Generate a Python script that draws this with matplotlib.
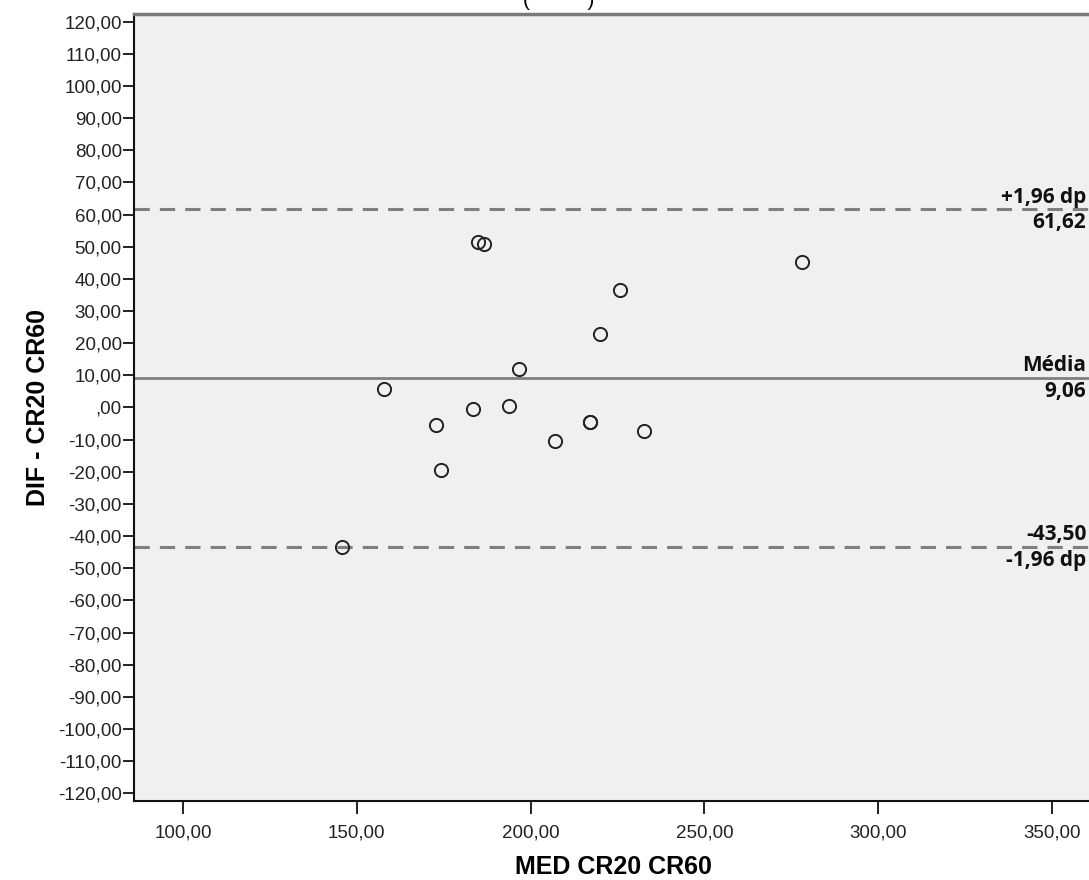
import matplotlib
matplotlib.use("Agg")
import matplotlib.pyplot as plt
from matplotlib.ticker import FuncFormatter

# Bland-Altman data
med = [145.7, 157.8, 172.8, 174.2, 183.4, 184.9, 186.6, 193.8,
       196.7, 207.0, 217.1, 217.1, 220.0, 225.7, 232.6, 278.1]
dif = [-43.5, 5.9, -5.3, -19.6, -0.6, 51.6, 51.0, 0.6,
       11.9, -10.3, -4.6, -4.6, 23.0, 36.4, -7.4, 45.4]

mean_diff = 9.06
upper_loa = 61.62
lower_loa = -43.50

y_ticks = list(range(-120, 121, 10))
x_ticks = [100, 150, 200, 250, 300, 350]


def comma_fmt(v, pos=None):
    s = "%.2f" % v
    s = s.replace(".", ",")
    if s.startswith("0,"):
        s = s[1:]
    if s.startswith("-0,"):
        s = s[2:]
    return s


fig = plt.figure(figsize=(10.89, 8.8), dpi=100)
fig.patch.set_facecolor("white")
ax = fig.add_axes([0.1233, 0.0898, 0.8800, 0.8943])
ax.set_facecolor("#f0f0f0")

ax.set_xlim(86, 360.6 + (0.0033 * 1089) / 3.476)
ax.set_ylim(-122.4, 122.4)

# reference lines
ax.axhline(mean_diff, color="#7f7f7f", lw=2.0, zorder=2)
ax.axhline(upper_loa, color="#7f7f7f", lw=2.2, ls=(0, (5, 3.3)), zorder=2)
ax.axhline(lower_loa, color="#7f7f7f", lw=2.2, ls=(0, (5, 3.3)), zorder=2)

ax.plot(med, dif, ls="none", marker="o", ms=9.5, mfc="none", mec="#222222",
        mew=1.4, zorder=3)

# labels on the reference lines
lab_font = dict(family=["Open Sans", "DejaVu Sans"], fontweight="bold",
                fontsize=15, color="#111111", ha="right")
xt = 0.9935
tr = ax.get_yaxis_transform()
ax.text(xt, upper_loa + 0.3, "+1,96 dp", transform=tr, va="bottom", **lab_font)
ax.text(xt, upper_loa - 0.8, comma_fmt(upper_loa), transform=tr, va="top", **lab_font)
ax.text(xt, mean_diff + 0.6, "Média", transform=tr, va="bottom", **lab_font)
ax.text(xt, mean_diff - 0.8, comma_fmt(mean_diff), transform=tr, va="top", **lab_font)
ax.text(xt, lower_loa + 0.6, comma_fmt(lower_loa), transform=tr, va="bottom", **lab_font)
ax.text(xt, lower_loa - 0.8, "-1,96 dp", transform=tr, va="top", **lab_font)

# axes styling
ax.set_yticks(y_ticks)
ax.set_xticks(x_ticks)
ax.yaxis.set_major_formatter(FuncFormatter(comma_fmt))
ax.xaxis.set_major_formatter(FuncFormatter(comma_fmt))
ax.tick_params(axis="y", direction="out", length=8, width=1.4, color="#222222",
               labelcolor="#222222", pad=1)
ax.tick_params(axis="x", direction="out", length=9, width=1.4, color="#222222",
               labelcolor="#222222", pad=8)
for lbl in ax.get_xticklabels() + ax.get_yticklabels():
    lbl.set_family(["Liberation Sans", "DejaVu Sans"])
    lbl.set_fontsize(13.5)

ax.spines["left"].set_color("#111111")
ax.spines["left"].set_linewidth(1.5)
ax.spines["bottom"].set_color("#111111")
ax.spines["bottom"].set_linewidth(1.5)
ax.spines["top"].set_color("#7a7a7a")
ax.spines["top"].set_linewidth(2.5)
ax.spines["right"].set_visible(False)

ax.set_xlabel("MED CR20 CR60", fontsize=18, fontweight="bold",
              family=["Liberation Sans", "DejaVu Sans"], labelpad=10)
ax.set_ylabel("DIF - CR20 CR60", fontsize=18, fontweight="bold",
              family=["Liberation Sans", "DejaVu Sans"], labelpad=6)

# title, cut off at the top edge as in the source image
fig.text(0.513, 1.0, "(          )", ha="center", va="center", fontsize=15,
         family=["Liberation Sans", "DejaVu Sans"])

fig.savefig("out.png", dpi=100)
